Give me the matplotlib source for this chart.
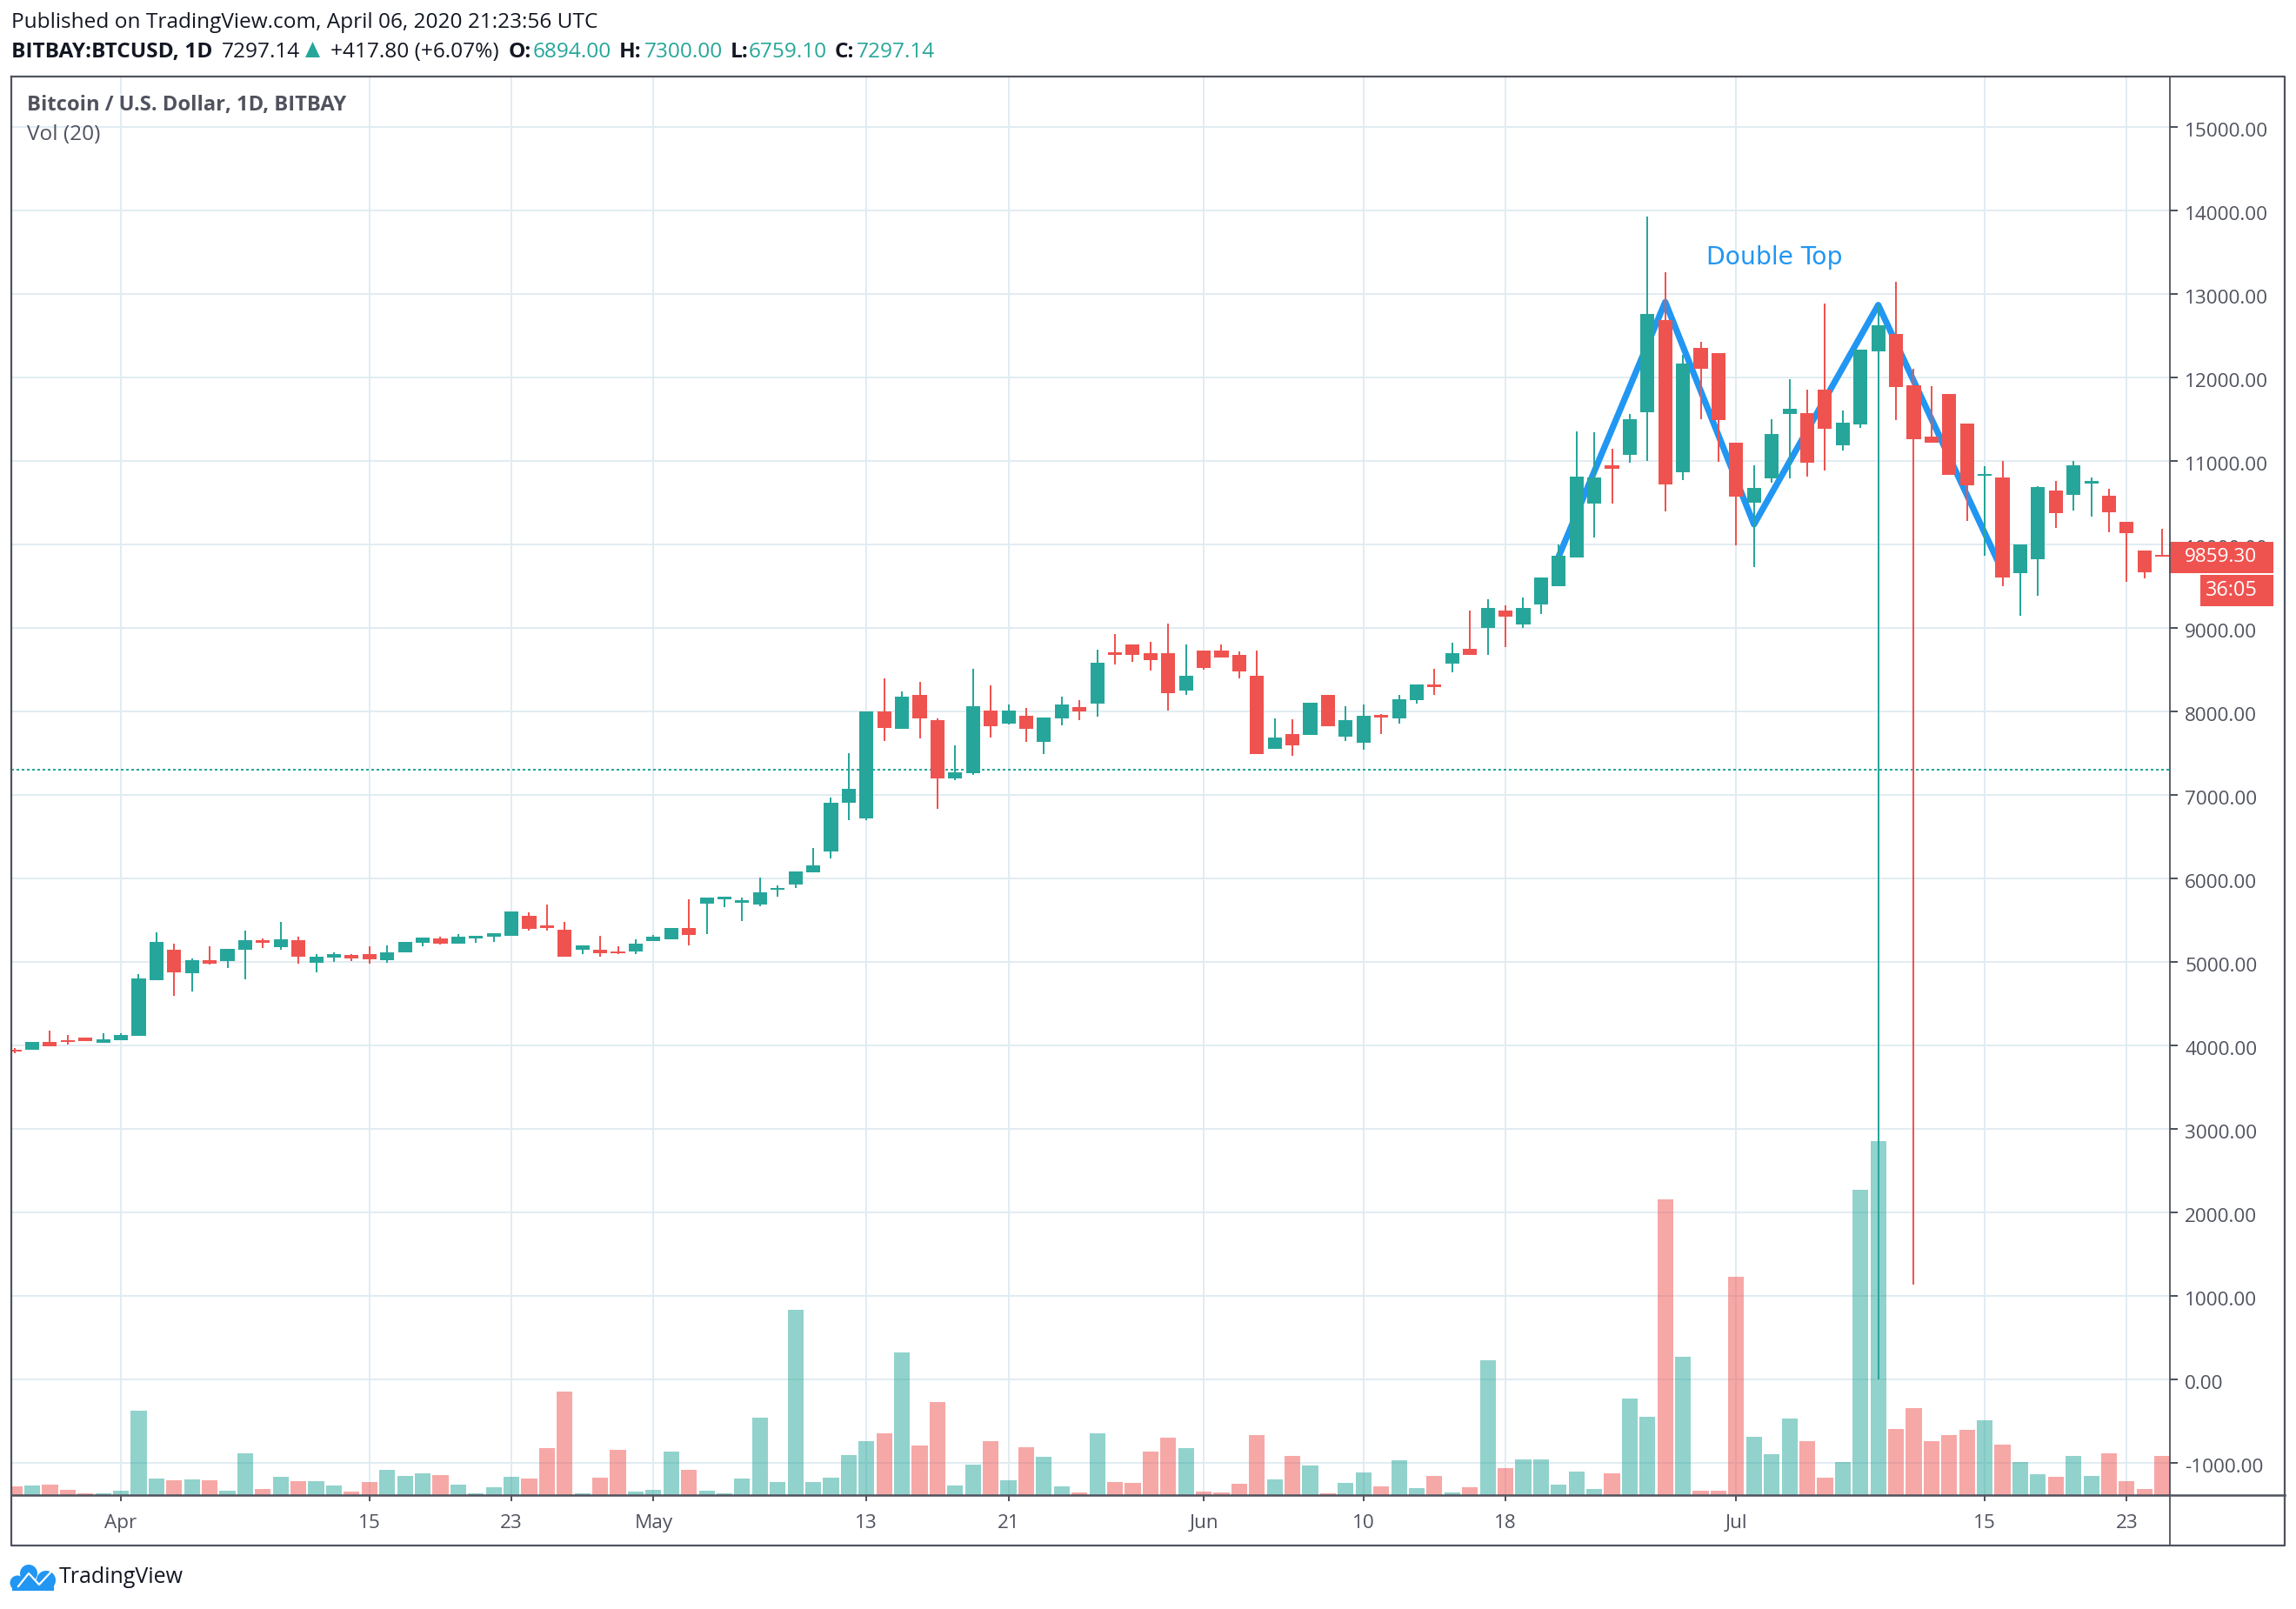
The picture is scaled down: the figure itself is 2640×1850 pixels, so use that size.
"""Bitcoin daily candles with volume overlay and a double top drawing, TradingView style."""

import matplotlib
matplotlib.use("Agg")
import matplotlib.pyplot as plt
from matplotlib.patches import Circle, Polygon, Rectangle
from matplotlib.transforms import ScaledTranslation

plt.rcParams["font.family"] = ["Open Sans", "DejaVu Sans"]

UP = "#26a69a"
DOWN = "#ef5350"
GRID = "#e1ecf2"
FRAME = "#50535e"
BLUE = "#2196f3"

opens = [
    3948, 3948, 4042, 4063, 4094, 4031, 4063, 4115, 4781, 5146, 4865, 5021, 5010, 5146, 5260, 5177,
    5260, 4990, 5052, 5083, 5094, 5021, 5115, 5229, 5281, 5219, 5281, 5302, 5313, 5552, 5438, 5385,
    5146, 5146, 5125, 5125, 5250, 5271, 5406, 5698, 5750, 5708, 5688, 5865, 5927, 6074, 6325, 6902,
    6724, 8004, 7794, 8193, 7899, 7196, 7259, 8014, 7857, 7952, 7637, 7920, 8056, 8098, 8707, 8801,
    8696, 8696, 8245, 8728, 8728, 8675, 8424, 7553, 7731, 7721, 8193, 7700, 7626, 7962, 7920, 8140,
    8319, 8571, 8749, 9000, 9209, 9042, 9281, 9500, 9844, 10490, 10948, 11073, 11583, 12688, 10865, 12354,
    12292, 11219, 10500, 10792, 11563, 11573, 11854, 11188, 11438, 12313, 12521, 11906, 11292, 11802, 11448, 10823,
    10802, 9656, 9823, 10646, 10594, 10729, 10583, 10271, 9927, 9872,
]
highs = [
    3969, 4042, 4177, 4125, 4094, 4146, 4146, 4854, 5354, 5219, 5042, 5188, 5156, 5375, 5281, 5479,
    5302, 5094, 5115, 5094, 5188, 5198, 5240, 5292, 5302, 5333, 5313, 5344, 5604, 5594, 5688, 5479,
    5198, 5313, 5188, 5271, 5323, 5406, 5750, 5771, 5781, 5771, 6010, 5917, 6084, 6367, 6965, 7500,
    8004, 8392, 8235, 8350, 7920, 7595, 8508, 8308, 8088, 8046, 7931, 8172, 8140, 8738, 8927, 8801,
    8833, 9053, 8801, 8728, 8801, 8717, 8728, 7920, 7910, 8109, 8193, 8067, 8088, 7973, 8203, 8319,
    8508, 8822, 9211, 9344, 9271, 9365, 9604, 10000, 11354, 11344, 11146, 11563, 13927, 13260, 12271, 12427,
    12292, 11219, 10948, 11500, 11979, 11854, 12885, 11604, 12333, 12879, 13146, 12104, 11896, 11802, 11448, 10938,
    11000, 10000, 10698, 10761, 11000, 10802, 10667, 10271, 9927, 10188,
]
lows = [
    3906, 3948, 3990, 4011, 4052, 4031, 4063, 4115, 4781, 4594, 4646, 4969, 4927, 4792, 5167, 5146,
    4979, 4875, 5000, 5010, 4979, 4990, 5115, 5188, 5208, 5219, 5229, 5240, 5313, 5375, 5375, 5063,
    5094, 5063, 5094, 5094, 5250, 5271, 5198, 5333, 5656, 5490, 5667, 5781, 5885, 6074, 6241, 6693,
    6693, 7647, 7794, 7679, 6829, 7175, 7238, 7689, 7847, 7637, 7490, 7836, 7899, 7941, 8560, 8592,
    8487, 8014, 8203, 8497, 8644, 8392, 7490, 7553, 7469, 7721, 7826, 7647, 7542, 7731, 7857, 8098,
    8193, 8466, 8675, 8675, 8770, 9000, 9167, 9500, 9844, 10084, 10490, 10979, 11000, 10396, 10771, 11500,
    10990, 9990, 9729, 10740, 10792, 10813, 10886, 11125, 11396, 0, 11490, 1140, 11219, 10833, 10281, 9865,
    9500, 9146, 9386, 10198, 10406, 10334, 10146, 9552, 9594, 9859.3,
]
closes = [
    3927, 4042, 3990, 4042, 4052, 4073, 4125, 4802, 5240, 4875, 5021, 4979, 5156, 5260, 5229, 5271,
    5063, 5063, 5094, 5042, 5031, 5115, 5240, 5292, 5219, 5302, 5313, 5344, 5604, 5396, 5406, 5063,
    5198, 5104, 5104, 5219, 5302, 5406, 5323, 5771, 5781, 5740, 5833, 5885, 6084, 6158, 6902, 7070,
    8004, 7805, 8182, 7920, 7196, 7270, 8067, 7826, 8014, 7794, 7931, 8088, 8004, 8581, 8675, 8675,
    8612, 8224, 8424, 8518, 8644, 8476, 7490, 7689, 7595, 8109, 7826, 7899, 7952, 7931, 8151, 8319,
    8287, 8696, 8675, 9240, 9136, 9240, 9604, 9865, 10813, 10802, 10906, 11500, 12760, 10719, 12167, 12104,
    11490, 10573, 10677, 11323, 11625, 10979, 11386, 11458, 12333, 12625, 11885, 11261, 11219, 10833, 10708, 10844,
    9604, 10000, 10688, 10375, 10948, 10761, 10386, 10136, 9667, 9859.3,
]
volumes = [
    -1281, -1271, -1260, -1326, -1368, -1364, -1333, -378, -1184, -1208, -1198, -1205, -1333, -885, -1312, -1170,
    -1218, -1218, -1274, -1343, -1225, -1083, -1152, -1128, -1146, -1260, -1368, -1288, -1170, -1184, -819, -146,
    -1368, -1177, -847, -1343, -1323, -868, -1083, -1333, -1368, -1187, -458, -1232, 833, -1229, -1177, -909,
    -739, -649, 327, -788, -271, -1271, -1021, -739, -1212, -816, -927, -1281, -1357, -649, -1232, -1243,
    -865, -698, -823, -1344, -1354, -1250, -667, -1198, -917, -1031, -1364, -1239, -1114, -1285, -969, -1302,
    -1156, -1351, -1292, 233, -1059, -958, -958, -1264, -1104, -1309, -1125, -233, -448, 2160, 274, -1333,
    -1333, 1229, -687, -896, -465, -739, -1174, -990, 2271, 2854, -597, -344, -739, -670, -607, -486,
    -781, -990, -1135, -1167, -920, -1156, -885, -1219, -1312, -913,
]

pattern_days = [87, 93, 98, 105, 111.8]
pattern_prices = [9858, 12903, 10240, 12868, 9771]
last_close = 7297.14

date_ticks = [6, 20, 28, 36, 48, 56, 67, 76, 84, 97, 111, 119]
date_labels = ["Apr", "15", "23", "May", "13", "21", "Jun", "10", "18", "Jul", "15", "23"]
price_ticks = list(range(-1000, 15001, 1000))

fig = plt.figure(figsize=(26.4, 18.5), dpi=100, facecolor="white")
W, H = 2640, 1850
LEFT, RIGHT, TOP, BOTTOM = 12.6, 2495, 88, 1719
ax = fig.add_axes([LEFT / W, 1 - BOTTOM / H, (RIGHT - LEFT) / W, (BOTTOM - TOP) / H])
ax.set_xlim(-0.196, 121.43)
ax.set_ylim(-1385, 15604)

ax.set_axisbelow(True)
ax.grid(True, color=GRID, linewidth=1.44)
for side in ax.spines.values():
    side.set_visible(False)
ax.yaxis.tick_right()
ax.set_yticks(price_ticks)
ax.set_yticklabels([f"{v:.2f}" for v in price_ticks])
ax.set_xticks(date_ticks)
ax.set_xticklabels(date_labels)
ax.tick_params(axis="y", length=6.5, width=1.44, color=FRAME, labelcolor=FRAME, labelsize=16.2, pad=5.8)
ax.tick_params(axis="x", length=5, width=1.44, color=FRAME, labelcolor=FRAME, labelsize=16.2, pad=11)

# price labels sit a little under their grid line
nudge = ScaledTranslation(0, -3 / 100, fig.dpi_scale_trans)
for lab in ax.get_yticklabels():
    lab.set_transform(lab.get_transform() + nudge)

days = list(range(len(opens)))
colors = [UP if c >= o else DOWN for o, c in zip(opens, closes)]

# volume shares the price scale here, bars grow from the bottom edge
base = ax.get_ylim()[0]
ax.bar(days, [v - base for v in volumes], bottom=base, width=0.89, color=colors, alpha=0.5, linewidth=0, zorder=2)

ax.plot(pattern_days, pattern_prices, color=BLUE, linewidth=5.2, solid_joinstyle="round", zorder=3)
ax.axhline(last_close, color=UP, linewidth=1.44, linestyle=(0, (1.5, 1.5)), zorder=3)

ax.vlines(days, lows, highs, colors=colors, linewidth=1.44, zorder=4)
ax.bar(days, [max(abs(c - o), 20) for o, c in zip(opens, closes)], bottom=[min(o, c) for o, c in zip(opens, closes)],
       width=0.79, color=colors, linewidth=0, zorder=5)

# frame, header and tags are placed in pixel space on top of the chart
over = fig.add_axes([0, 0, 1, 1], facecolor="none", zorder=10)
over.set_xlim(0, W)
over.set_ylim(H, 0)
over.axis("off")

over.plot([LEFT, 2627, 2627, LEFT, LEFT], [TOP, TOP, 1777, 1777, TOP], color=FRAME, linewidth=1.6)
over.plot([LEFT, 2627], [BOTTOM, BOTTOM], color=FRAME, linewidth=1.8)
over.plot([RIGHT, RIGHT], [TOP, 1777], color=FRAME, linewidth=1.3)

over.text(1962, 296, "Double Top", color=BLUE, fontsize=20.3, family="DejaVu Sans", va="center")


def label(x, y, s, color="#131722", weight="normal", size=17.6):
    over.text(x, y, s, color=color, fontweight=weight, fontsize=size, va="center", ha="left")


label(13, 26, "Published on TradingView.com, April 06, 2020 21:23:56 UTC")
label(13, 60, "BITBAY:BTCUSD, 1D", weight="bold")
label(255, 60, "7297.14")
over.add_patch(Polygon([[351, 66], [368, 66], [359.5, 48]], color=UP, linewidth=0))
label(380, 60, "+417.80 (+6.07%)")
for x_key, key, x_val, val in [(585, "O:", 613, "6894.00"), (712, "H:", 741, "7300.00"),
                               (840, "L:", 861, "6759.10"), (960, "C:", 985, "7297.14")]:
    label(x_key, 60, key, weight="bold")
    label(x_val, 60, val, color=UP)

label(31, 121.5, "Bitcoin / U.S. Dollar, 1D, BITBAY", color=FRAME, weight="bold", size=17.1)
label(31, 155, "Vol (20)", color=FRAME, size=17.6)

over.add_patch(Rectangle((2494, 623), 120, 36, color=DOWN, linewidth=0))
over.add_patch(Rectangle((2530, 661), 84, 36, color=DOWN, linewidth=0))
label(2512, 641, "9859.30", color="white", size=16.2)
label(2536, 679, "36:05", color="white", size=16.8)

# logo
for cx, cy, r in [(33, 1809, 10), (20, 1820, 8.5), (53, 1817, 11)]:
    over.add_patch(Circle((cx, cy), r, color=BLUE, linewidth=0))
over.add_patch(Rectangle((14, 1816), 48, 13, color=BLUE, linewidth=0))
over.plot([21, 33, 45, 58], [1824, 1809, 1822, 1808], color="white", linewidth=1.6)
label(68, 1813, "TradingView", size=18)

fig.savefig("out.png", dpi=100)
